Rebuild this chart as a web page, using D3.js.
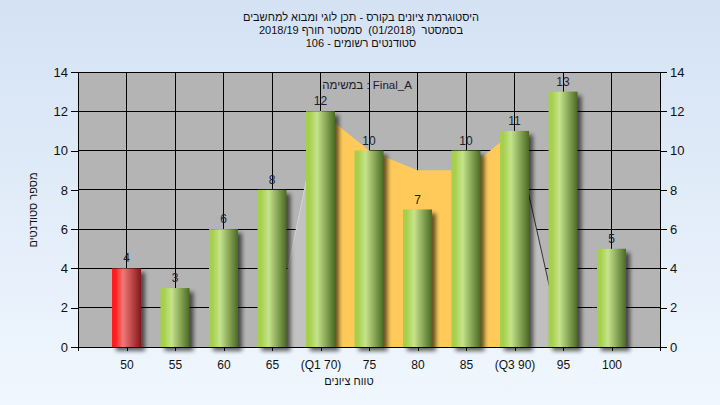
<!DOCTYPE html>
<html><head><meta charset="utf-8">
<script src="https://cdn.jsdelivr.net/npm/d3@7/dist/d3.min.js"></script>
<style>
html,body{margin:0;padding:0;}
body{width:720px;height:405px;overflow:hidden;}
svg text{font-family:"Liberation Sans",Arial,sans-serif;white-space:pre;}
</style></head>
<body>
<svg id="c" width="720" height="405"></svg>
<script>
// ---- data ----
const categories = ["50","55","60","65","(Q1 70)","75","80","85","(Q3 90)","95","100"];
const counts = [4,3,6,8,12,10,7,10,11,13,5];
const failing = [true,false,false,false,false,false,false,false,false,false,false];
const finalA = [null,null,null,0,12,10,9,9,11,0,null];   // area series "Final_A"
const q1Index = 4, q3Index = 8;
const yTicks = [0,2,4,6,8,10,12,14];
const titleLines = ["היסטוגרמת ציונים בקורס - תכן לוגי ומבוא למחשבים",
                    "בסמסטר  (01/2018)  סמסטר חורף 2018/19",
                    "סטודנטים רשומים - 106"];
const seriesLabel = "במשימה : Final_A";
const xTitle = "טווח ציונים";
const yTitle = "מספר סטודנטים";

// ---- layout ----
const W=720,H=405;
const L=78,R=660,T=72,B=347;
const svg=d3.select("#c");
const defs=svg.append("defs");

const bg=defs.append("linearGradient").attr("id","bg").attr("x1",0).attr("y1",0).attr("x2",0).attr("y2",1);
bg.append("stop").attr("offset","0%").attr("stop-color","#d4e2f4");
bg.append("stop").attr("offset","100%").attr("stop-color","#f0f7fe");

function barGrad(id,c0,c1,c2){
  const g=defs.append("linearGradient").attr("id",id).attr("x1",0).attr("y1",0).attr("x2",1).attr("y2",0);
  g.append("stop").attr("offset","0%").attr("stop-color",c0);
  g.append("stop").attr("offset","12%").attr("stop-color",c0);
  g.append("stop").attr("offset","38%").attr("stop-color",c1);
  g.append("stop").attr("offset","100%").attr("stop-color",c2);
}
barGrad("gGreen","#a6d04c","#c6e38c","#4b6a22");
barGrad("gRed","#ff1e1e","#f07878","#861616");

const blur=defs.append("filter").attr("id","blur").attr("x","-50%").attr("y","-50%").attr("width","200%").attr("height","200%");
blur.append("feGaussianBlur").attr("stdDeviation",2);

svg.append("rect").attr("width",W).attr("height",H).attr("fill","url(#bg)");

const x=d3.scalePoint().domain(categories).range([L,R]).padding(1);
const y=d3.scaleLinear().domain([0,14]).range([B,T]);
const bw=29;

// plot background
svg.append("rect").attr("x",L).attr("y",T).attr("width",R-L).attr("height",B-T).attr("fill","#b4b4b4");

// grid
const grid=svg.append("g").attr("stroke","#000").attr("stroke-width",1).attr("shape-rendering","crispEdges");
grid.selectAll(".h").data(yTicks).join("line").attr("x1",L).attr("x2",R).attr("y1",d=>y(d)).attr("y2",d=>y(d));
grid.selectAll(".v").data(categories).join("line").attr("x1",d=>x(d)).attr("x2",d=>x(d)).attr("y1",T).attr("y2",B);

// area series
const pts=categories.map((c,i)=>({c,i,v:finalA[i]})).filter(d=>d.v!==null);
const inner=pts.filter(d=>d.i>=q1Index&&d.i<=q3Index);
const areaGen=d3.area().x(d=>x(d.c)).y0(y(0)).y1(d=>y(d.v));
const leftSeg=pts.filter(d=>d.i<=q1Index);
const rightSeg=pts.filter(d=>d.i>=q3Index);
svg.append("path").datum(leftSeg).attr("d",areaGen).attr("fill","#c2c2c2");
svg.append("path").datum(rightSeg).attr("d",areaGen).attr("fill","#bfbfbf");
svg.append("path").datum(inner).attr("d",areaGen).attr("fill","#ffca5a");
const lineGen=d3.line().x(d=>x(d.c)).y(d=>y(d.v));
svg.append("path").datum(leftSeg).attr("d",lineGen).attr("fill","none").attr("stroke","#d4d4d4").attr("stroke-width",1);
svg.append("path").datum(rightSeg).attr("d",lineGen).attr("fill","none").attr("stroke","#333").attr("stroke-width",1);

// bars
const data=categories.map((c,i)=>({c,v:counts[i],f:failing[i]}));
svg.append("g").selectAll("rect").data(data).join("rect")
  .attr("x",d=>x(d.c)-bw/2+4).attr("y",d=>y(d.v)+4).attr("width",bw).attr("height",d=>y(0)-y(d.v))
  .attr("fill","#000").attr("opacity",0.6).attr("filter","url(#blur)");
svg.append("g").selectAll("rect").data(data).join("rect")
  .attr("x",d=>x(d.c)-bw/2).attr("y",d=>y(d.v)).attr("width",bw).attr("height",d=>y(0)-y(d.v))
  .attr("fill",d=>d.f?"url(#gRed)":"url(#gGreen)");

// value labels
svg.append("g").selectAll("text").data(data).join("text")
  .attr("x",d=>x(d.c)).attr("y",d=>y(d.v)-6).attr("text-anchor","middle")
  .attr("font-size",12).attr("fill","#1e1e2a").text(d=>d.v);

// border lines
const fr=svg.append("g").attr("stroke","#000").attr("shape-rendering","crispEdges");
fr.append("line").attr("x1",L).attr("x2",L).attr("y1",T).attr("y2",B+4);
fr.append("line").attr("x1",R).attr("x2",R).attr("y1",T).attr("y2",B+4);
fr.append("line").attr("x1",L).attr("x2",R).attr("y1",B).attr("y2",B);

// axes
const yl=svg.append("g").attr("transform",`translate(${L},0)`)
  .call(d3.axisLeft(y).tickValues(yTicks).tickSize(7).tickPadding(3).tickSizeOuter(0));
const yr=svg.append("g").attr("transform",`translate(${R},0)`)
  .call(d3.axisRight(y).tickValues(yTicks).tickSize(7).tickPadding(3).tickSizeOuter(0));
const xa=svg.append("g").attr("transform",`translate(0,${B})`)
  .call(d3.axisBottom(x).tickSize(4).tickPadding(9).tickSizeOuter(0));
[yl,yr,xa].forEach(g=>{
  g.select(".domain").remove();
  g.selectAll("line").attr("stroke","#000").attr("shape-rendering","crispEdges");
  g.selectAll("text").attr("fill","#111").attr("font-family","Liberation Sans, Arial, sans-serif");
});
yl.selectAll("text").attr("font-size",13);
yr.selectAll("text").attr("font-size",13);
xa.selectAll("text").attr("font-size",12);

// series label
svg.append("text").attr("x",367).attr("y",89).attr("text-anchor","middle").attr("font-size",11.5)
  .attr("fill","#201a30").text(seriesLabel);

// titles
svg.append("g").selectAll("text").data(titleLines).join("text")
  .attr("x",361).attr("y",(d,i)=>21+i*13).attr("text-anchor","middle").attr("direction","rtl")
  .attr("font-size",11).attr("fill","#111").text(d=>d);

svg.append("text").attr("x",349).attr("y",385).attr("text-anchor","middle").attr("direction","rtl")
  .attr("font-size",11).attr("fill","#111").text(xTitle);
svg.append("text").attr("transform","translate(37,210) rotate(-90)").attr("text-anchor","middle").attr("direction","rtl")
  .attr("font-size",11).attr("fill","#111").text(yTitle);
</script>
</body></html>
